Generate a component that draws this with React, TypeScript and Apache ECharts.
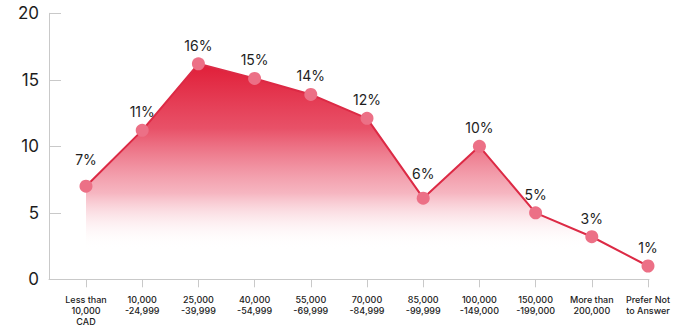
import React, { useEffect, useRef } from "react";
import * as echarts from "echarts";

const categories = [
  "Less than\n10,000\nCAD",
  "10,000\n-24,999",
  "25,000\n-39,999",
  "40,000\n-54,999",
  "55,000\n-69,999",
  "70,000\n-84,999",
  "85,000\n-99,999",
  "100,000\n-149,000",
  "150,000\n-199,000",
  "More than\n200,000",
  "Prefer Not\nto Answer",
];
const values = [7.0, 11.2, 16.2, 15.1, 13.9, 12.1, 6.1, 10.0, 5.0, 3.2, 1.0];
const valueLabels = ["7%", "11%", "16%", "15%", "14%", "12%", "6%", "10%", "5%", "3%", "1%"];
const yTicks = [0, 5, 10, 15, 20];

const FONT = "Inter, 'Noto Sans', sans-serif";

export default function App() {
  const ref = useRef<HTMLDivElement>(null);
  useEffect(() => {
    if (!ref.current) return;
    const chart = echarts.init(ref.current, undefined, { renderer: "svg" });
    const top = 13.3;
    const bottom = 330 - 279.3;
    const raised: Record<number, number> = { 0: 13, 6: 11 };
    chart.setOption({
      animation: false,
      backgroundColor: "#ffffff",
      grid: [
        { left: 86, right: 31, top, bottom },
        { left: 49, right: 30, top, bottom },
      ],
      xAxis: [
        {
          type: "category",
          gridIndex: 0,
          data: categories,
          boundaryGap: false,
          axisLine: { show: true, lineStyle: { color: "#c9c9c9", width: 1 } },
          axisTick: { show: true, length: 8, lineStyle: { color: "#c9c9c9" } },
          axisLabel: {
            interval: 0,
            margin: 15,
            fontFamily: FONT,
            fontSize: 9,
            fontWeight: 500,
            color: "#222222",
            lineHeight: 11,
            align: "center",
          },
        },
        {
          type: "value",
          gridIndex: 1,
          min: 0,
          max: 1,
          axisLine: { show: true, lineStyle: { color: "#c9c9c9", width: 1 } },
          axisTick: { show: false },
          axisLabel: { show: false },
          splitLine: { show: false },
        },
      ],
      yAxis: [
        {
          type: "value",
          gridIndex: 0,
          min: 0,
          max: 20,
          show: false,
        },
        {
          type: "value",
          gridIndex: 1,
          min: yTicks[0],
          max: yTicks[yTicks.length - 1],
          interval: 5,
          axisLine: { show: true, lineStyle: { color: "#c9c9c9", width: 1 } },
          axisTick: { show: true, inside: true, length: 12, lineStyle: { color: "#c9c9c9" } },
          splitLine: { show: false },
          axisLabel: {
            margin: 10,
            fontFamily: FONT,
            fontSize: 17,
            color: "#1c1c1c",
          },
        },
      ],
      series: [
        {
          type: "line",
          xAxisIndex: 0,
          yAxisIndex: 0,
          data: values.map((v, i) => ({
            value: v,
            label: raised[i] ? { distance: raised[i] } : undefined,
          })),
          symbol: "circle",
          symbolSize: 13,
          itemStyle: { color: "#ec7086" },
          lineStyle: { color: "#dc2a45", width: 2 },
          areaStyle: {
            opacity: 1,
            color: new echarts.graphic.LinearGradient(0, 0, 0, 1, [
              { offset: 0, color: "rgba(224,30,56,1)" },
              { offset: 0.3, color: "rgba(231,72,96,0.95)" },
              { offset: 0.6, color: "rgba(242,150,166,0.7)" },
              { offset: 0.86, color: "rgba(255,255,255,0)" },
            ]),
          },
          label: {
            show: true,
            position: "top",
            distance: 5,
            fontFamily: FONT,
            fontSize: 14,
            color: "#1e1e1e",
            formatter: (p: any) => valueLabels[p.dataIndex],
          },
          z: 3,
        },
      ],
    });
    return () => chart.dispose();
  }, []);
  return (
    <div
      ref={ref}
      style={{ position: "absolute", left: 0, top: 0, width: 679, height: 330 }}
    />
  );
}
